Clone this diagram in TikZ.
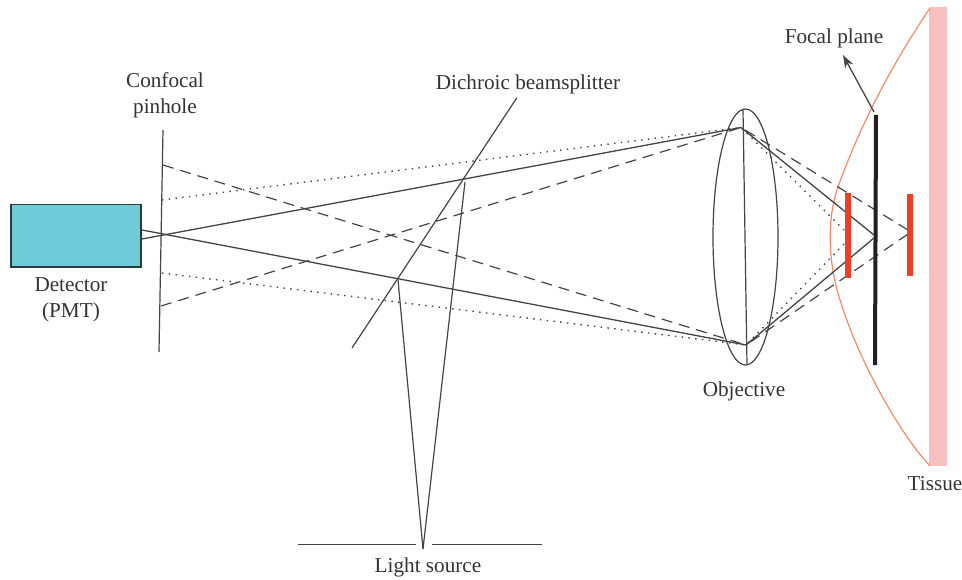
\documentclass[tikz,border=0pt]{standalone}
\usepackage{fontspec}
\setmainfont{Liberation Serif}
\usetikzlibrary{arrows.meta}
\definecolor{ink}{HTML}{444446}
\definecolor{txt}{HTML}{333335}
\definecolor{cyanbox}{HTML}{6FCBD5}
\definecolor{redbar}{HTML}{EE3E24}
\definecolor{pinkbar}{HTML}{F9C0C0}
\definecolor{orangeline}{HTML}{F58B6B}
\definecolor{blackbar}{HTML}{231F20}
\tikzset{
  x=1pt,y=-1pt,
  ray/.style={draw=ink,line width=1.3pt},
  raydash/.style={draw=ink,line width=1.2pt,dash pattern=on 11pt off 7pt},
  raydot/.style={draw=ink,line width=1.4pt,dash pattern=on 1.4pt off 5.4pt},
  optic/.style={draw=ink,line width=1.2pt},
  label/.style={text=txt,font=\fontsize{21.2}{26}\selectfont,align=center,inner sep=0pt},
}
\begin{document}
\begin{tikzpicture}
\useasboundingbox (0,0) rectangle (962,580);
% anchor points
\coordinate (LT) at (741,127.5);
\coordinate (LB) at (746,345);
\coordinate (SU) at (142,230);
\coordinate (SL) at (142,239);
\coordinate (DU) at (163,165);
\coordinate (DL) at (161,306);
\coordinate (PU) at (162,200);
\coordinate (PL) at (162,273);
\coordinate (FST) at (874,235);
\coordinate (FSB) at (874,238);
\coordinate (FDT) at (908,230);
\coordinate (FDB) at (908,234);
\coordinate (FPT) at (845,231);
\coordinate (FPB) at (845,243);
\coordinate (BS1) at (352,348);
\coordinate (BS2) at (516.7,98);
\coordinate (RA) at (398,280);
\coordinate (RB) at (465,182);
\coordinate (TIP) at (423,549);
\coordinate (SA) at (298,544.5);
\coordinate (SB) at (416,544.5);
\coordinate (SC) at (432,544.5);
\coordinate (SD) at (542,544.5);
\coordinate (PH1) at (163,130);
\coordinate (PH2) at (159,352);
\coordinate (OT) at (743,109);
\coordinate (OB) at (747,365);
\coordinate (AR1) at (874,112);
\coordinate (AR2) at (843,55);
% tissue and bars
\node[fill=pinkbar,minimum width=18pt,minimum height=459pt,inner sep=0pt] (tissue) at (938,236.5) {};
\draw[orangeline,line width=1.2pt] (930,8) .. controls (895,60) and (862,120) .. (838,187)
  .. controls (829,212) and (828,245) .. (834,277)
  .. controls (846,335) and (892,425) .. (930,466);
% rays
\draw[ray] (SU) -- (LB) -- (FSB);
\draw[ray] (SL) -- (LT) -- (FST);
\draw[raydash] (DU) -- (LB);
\draw[raydash] (DL) -- (LT);
\draw[raydash] (FDT) -- (LT);
\draw[raydash] (FDB) -- (LB);
\draw[raydot] (PU) -- (LT) -- (FPT);
\draw[raydot] (PL) -- (LB) -- (FPB);
% optics
\draw[optic] (PH1) -- (PH2);
\draw[optic] (BS1) -- (BS2);
\draw[optic] (RA) -- (TIP);
\draw[optic] (RB) -- (TIP);
\draw[optic] (SA) -- (SB);
\draw[optic] (SC) -- (SD);
\draw[optic] (OT) -- (OB);
\draw[optic] (745.5,237) ellipse [x radius=32.5,y radius=128];
\node[fill=redbar,minimum width=6pt,minimum height=85pt,inner sep=0pt] (barL) at (848,235.5) {};
\node[fill=redbar,minimum width=6pt,minimum height=82pt,inner sep=0pt] (barR) at (910,235) {};
\fill[blackbar] (874,115) -- (878,115) -- (877,365) -- (873,365) -- cycle;
\draw[ink,line width=1.3pt,-{Stealth[length=13pt,width=9pt]}] (AR1) -- (AR2);
\node[draw=blackbar!85!cyanbox,line width=1.2pt,fill=cyanbox,minimum width=130pt,minimum height=62.5pt,inner sep=0pt] (det) at (76,235.7) {};
% labels
\node[label] (l1) at (71,299.5) {Detector\\(PMT)};
\node[label] (l2) at (165,95) {Confocal\\pinhole};
\node[label] (l3) at (528,84) {Dichroic beamsplitter};
\node[label] (l4) at (744,391.5) {Objective};
\node[label] (l5) at (834,38.5) {Focal plane};
\node[label] (l6) at (935,483.5) {Tissue};
\node[label] (l7) at (428,567.5) {Light source};
\end{tikzpicture}
\end{document}
